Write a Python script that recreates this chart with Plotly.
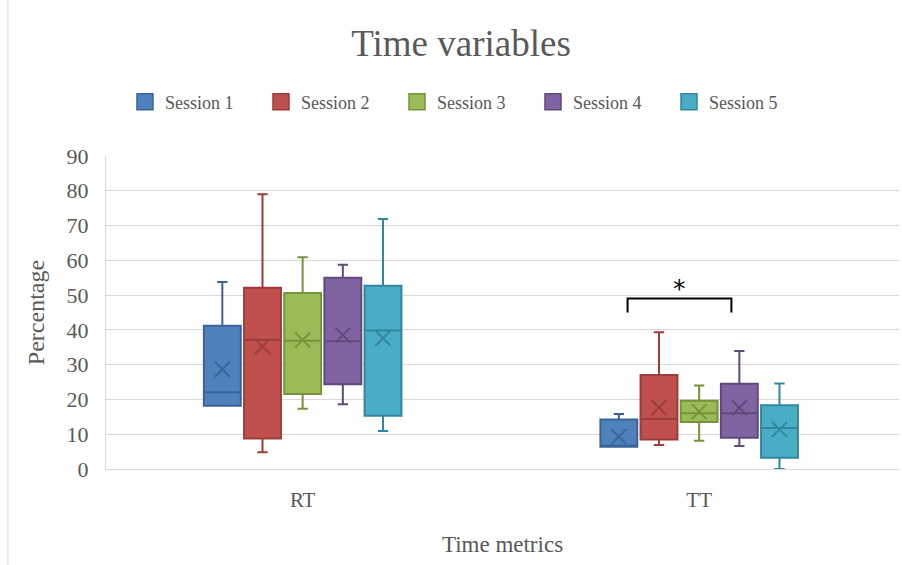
import plotly.graph_objects as go

# ---------------- data ----------------
categories = ["RT", "TT"]
sessions = ["Session 1", "Session 2", "Session 3", "Session 4", "Session 5"]

# per session: [RT, TT]
lower = {
    "Session 1": [18.2, 6.4],
    "Session 2": [4.8, 6.9],
    "Session 3": [17.3, 8.1],
    "Session 4": [18.6, 6.6],
    "Session 5": [10.9, 0.0],
}
q1 = {
    "Session 1": [18.2, 6.4],
    "Session 2": [8.8, 8.5],
    "Session 3": [21.6, 13.5],
    "Session 4": [24.4, 9.0],
    "Session 5": [15.3, 3.2],
}
median = {
    "Session 1": [22.1, 6.5],
    "Session 2": [37.2, 14.4],
    "Session 3": [36.9, 16.0],
    "Session 4": [36.7, 16.0],
    "Session 5": [39.8, 11.8],
}
q3 = {
    "Session 1": [41.2, 14.2],
    "Session 2": [52.1, 27.0],
    "Session 3": [50.6, 19.6],
    "Session 4": [55.0, 24.5],
    "Session 5": [52.7, 18.3],
}
upper = {
    "Session 1": [53.8, 15.8],
    "Session 2": [79.0, 39.3],
    "Session 3": [60.9, 24.0],
    "Session 4": [58.7, 33.9],
    "Session 5": [71.9, 24.6],
}
mean = {
    "Session 1": [28.7, 9.3],
    "Session 2": [35.2, 17.7],
    "Session 3": [37.1, 16.5],
    "Session 4": [38.5, 17.6],
    "Session 5": [37.6, 11.4],
}

y_ticks = [0, 10, 20, 30, 40, 50, 60, 70, 80, 90]

# significance bracket: between Session 1 and Session 4 in TT
sig_category = 1
sig_pair = (0, 3)
sig_top = 49.0
sig_leg = 45.0
sig_label = "*"

# ---------------- style ----------------
fills = ["#4F81BD", "#C0504D", "#9BBB59", "#8064A2", "#4BACC6"]
lines = ["#3A6497", "#9B3D3B", "#77933C", "#5F4A7B", "#31879F"]
FONT = "Liberation Serif"
GREY = "#595959"
GRID = "#d9d9d9"

pitch = 0.1013
box_w = 0.093

fig = go.Figure()

for j, s in enumerate(sessions):
    xs = [i + (j - 2) * pitch for i in range(len(categories))]
    fig.add_trace(go.Box(
        x=xs,
        q1=q1[s], median=median[s], q3=q3[s],
        lowerfence=lower[s], upperfence=upper[s],
        width=box_w,
        whiskerwidth=0.28,
        fillcolor=fills[j],
        line=dict(color=lines[j], width=2),
        showlegend=False,
        hoverinfo="skip",
    ))
    fig.add_trace(go.Scatter(
        x=xs, y=mean[s],
        mode="markers",
        marker=dict(symbol="x-thin", size=15,
                    line=dict(color=lines[j], width=2)),
        showlegend=False,
        hoverinfo="skip",
    ))
    # legend proxy
    fig.add_trace(go.Scatter(
        x=[None], y=[None],
        mode="markers",
        name=s,
        marker=dict(symbol="square", size=16, color=fills[j],
                    line=dict(color=lines[j], width=1.5)),
    ))

# bracket
xa = sig_category + (sig_pair[0] - 2) * pitch + 0.022
xb = sig_category + (sig_pair[1] - 2) * pitch - 0.02
fig.add_shape(
    type="path",
    path=f"M {xa},{sig_leg} L {xa},{sig_top} L {xb},{sig_top} L {xb},{sig_leg}",
    xref="x", yref="y",
    line=dict(color="black", width=2),
)
fig.add_annotation(
    x=(xa + xb) / 2, y=sig_top, xref="x", yref="y",
    text=sig_label, showarrow=False,
    yanchor="bottom", yshift=-6,
    font=dict(family="DejaVu Sans", size=25, color="black"),
)

# left frame line of chart area
fig.add_shape(
    type="line", xref="paper", yref="paper",
    x0=-0.1236, x1=-0.1236, y0=-0.4, y1=1.6,
    line=dict(color=GRID, width=1),
)

fig.update_layout(
    width=902, height=565,
    margin=dict(l=106, r=3, t=156, b=96),
    paper_bgcolor="white",
    plot_bgcolor="white",
    font=dict(family=FONT, color=GREY),
    title=dict(
        text="Time variables",
        x=0.4477, xref="paper", xanchor="center",
        y=1 - 43 / 565, yref="container", yanchor="middle",
        font=dict(family=FONT, size=37, color=GREY),
    ),
    legend=dict(
        orientation="h",
        x=0.4527, xanchor="center",
        y=1 - 102 / 565, yref="container",
        yanchor="middle",
        font=dict(family=FONT, size=18, color=GREY),
        bgcolor="rgba(0,0,0,0)",
        itemsizing="trace",
        entrywidth=91, entrywidthmode="pixels",
    ),
    xaxis=dict(
        range=[-0.496, 1.504],
        tickmode="array",
        tickvals=list(range(len(categories))),
        ticktext=categories,
        showgrid=False,
        zeroline=False,
        showline=True, linecolor=GRID, linewidth=1.3,
        ticks="",
        ticklabelstandoff=12,
        tickfont=dict(family=FONT, size=21, color=GREY),
        title=dict(text="Time metrics", standoff=24,
                   font=dict(family=FONT, size=23, color=GREY)),
    ),
    yaxis=dict(
        range=[0, 90],
        tickmode="array",
        tickvals=y_ticks,
        showgrid=True, gridcolor=GRID, gridwidth=1.3,
        zeroline=False,
        showline=True, linecolor=GRID, linewidth=1.3,
        ticks="",
        ticklabelstandoff=12,
        tickfont=dict(family=FONT, size=22, color=GREY),
        title=dict(text="Percentage", standoff=15,
                   font=dict(family=FONT, size=24, color=GREY)),
    ),
)

fig.write_html(
    "out.html",
    config={"displayModeBar": False},
    post_script="document.body.style.margin='0';document.body.style.padding='0';",
)
